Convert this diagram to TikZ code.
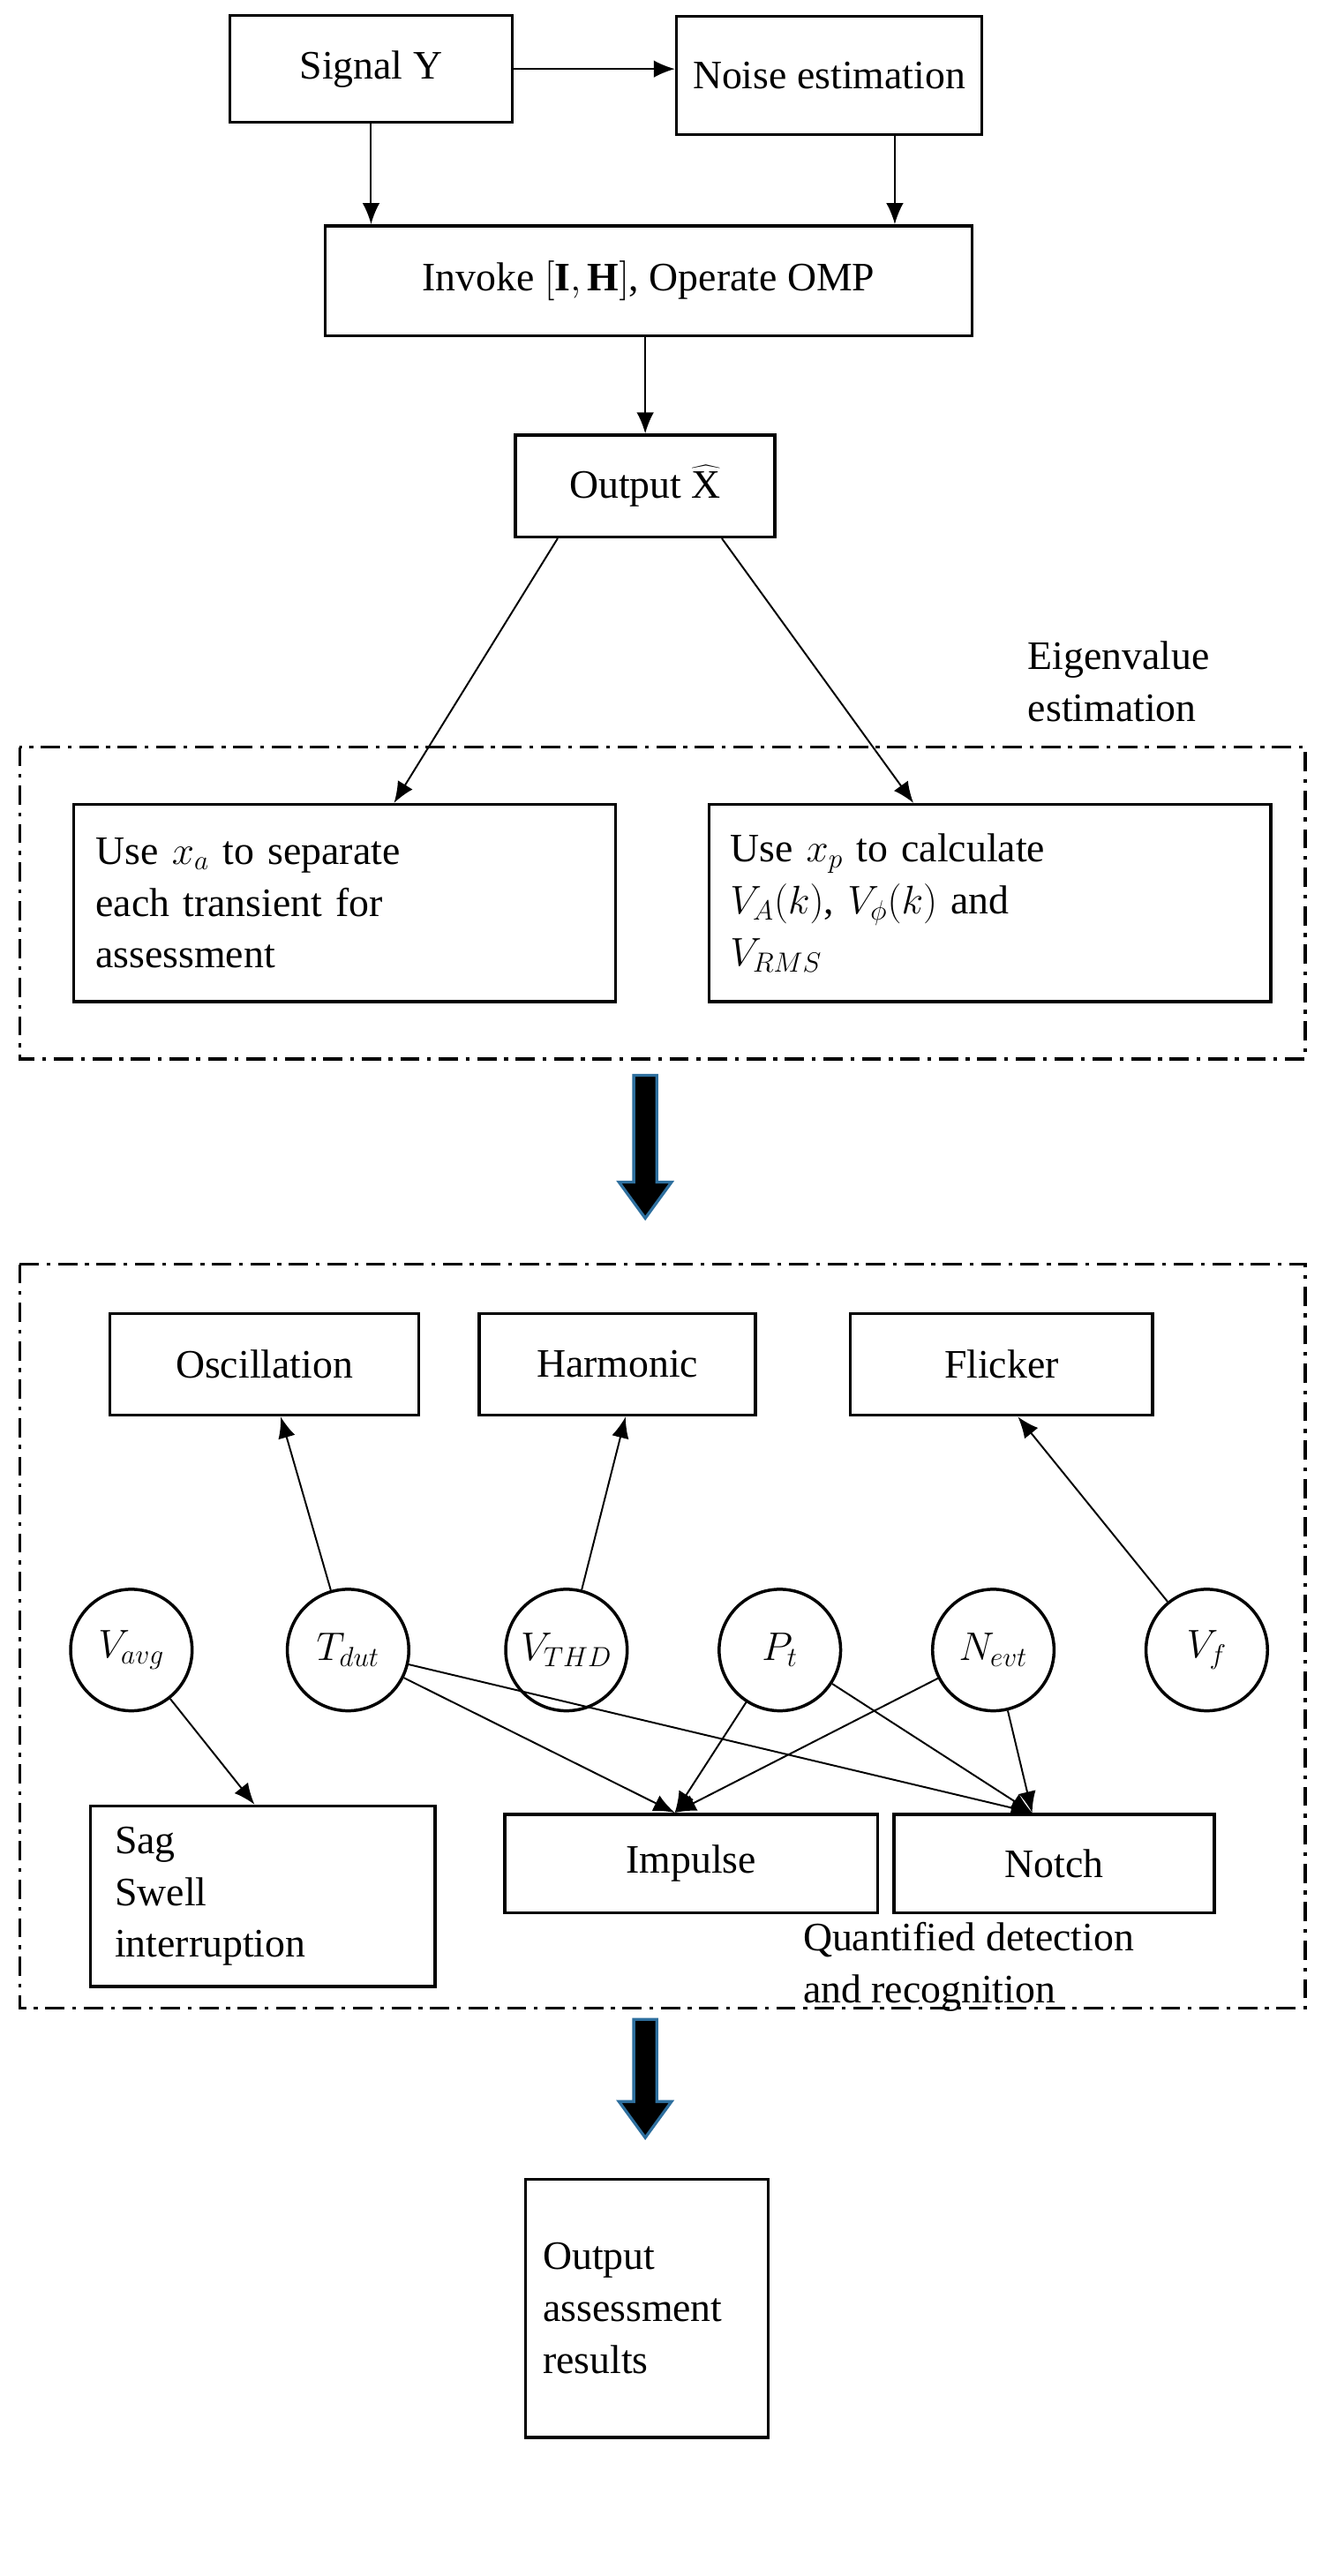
\documentclass[tikz,border=0pt]{standalone}
\usepackage{fontspec}
\setmainfont{Liberation Serif}
\usetikzlibrary{arrows.meta}
\definecolor{arrowblue}{HTML}{2E6F9E}
\begin{document}
\begin{tikzpicture}[x=0.03cm,y=-0.03cm,
  font=\fontsize{21}{27}\selectfont,
  box/.style={draw,line width=1.6pt,inner sep=4pt},
  circ/.style={draw,circle,line width=1.6pt,minimum size=2.22cm,inner sep=0pt},
  arr/.style={-{Latex[length=11pt,width=9pt]},line width=0.9pt},
  dd/.style={line width=1.6pt,dash pattern=on 10pt off 4pt on 2pt off 4pt},
  big/.style={fill=black,draw=arrowblue,line width=1.5pt}]
\useasboundingbox (0,0) rectangle (814,1569);
\node[box,minimum width=5.16cm,minimum height=1.95cm] (sig) at (226,42) {Signal Y};
\node[box,minimum width=5.58cm,minimum height=2.16cm] (noise) at (505,46) {Noise estimation};
\node[box,minimum width=11.82cm,minimum height=2.01cm] (inv) at (395,171) {Invoke $[\mathbf{I},\mathbf{H}]$, Operate OMP};
\node[box,minimum width=4.74cm,minimum height=1.86cm] (out) at (393,296) {Output $\widehat{\mathrm{X}}$};
\draw[arr] (sig.east) -- (sig.east -| noise.west);
\draw[arr] (sig.south) -- (sig.south |- inv.north);
\draw[arr] ([xshift=1.2cm]noise.south) -- ([xshift=1.2cm]noise.south |- inv.north);
\draw[arr] (out.north |- inv.south) -- (out.north);
\node[align=left,anchor=west] (eig) at (622,415) {Eigenvalue\\estimation};
\draw[dd] (12,455) rectangle (795,645);
\node[box,minimum width=9.9cm,minimum height=3.6cm,align=left,text width=9.1cm] (A) at (210,550) {Use $x_a$ to separate\\each transient for\\assessment};
\node[box,minimum width=10.26cm,minimum height=3.6cm,align=left,text width=9.5cm] (B) at (603,550) {Use $x_p$ to calculate\\$V_A(k)$, $V_\phi(k)$ and\\$V_{RMS}$};
\draw[arr] ([xshift=-1.6cm]out.south) -- ([xshift=0.9cm]A.north);
\draw[arr] ([xshift=1.4cm]out.south) -- ([xshift=-1.4cm]B.north);
\draw[big] (386,655)--(400,655)--(400,720)--(409,720)--(393,742)--(377,720)--(386,720)--cycle;
\draw[dd] (12,770) rectangle (795,1223);
\node[box,minimum width=5.64cm,minimum height=1.86cm] (osc) at (161,831) {Oscillation};
\node[box,minimum width=5.04cm,minimum height=1.86cm] (har) at (376,831) {Harmonic};
\node[box,minimum width=5.52cm,minimum height=1.86cm] (fli) at (610,831) {Flicker};
\node[circ] (vavg) at (80,1005) {$V_{avg}$};
\node[circ] (tdut) at (212,1005) {$T_{dut}$};
\node[circ] (vthd) at (345,1005) {$V_{THD}$};
\node[circ] (pt) at (475,1005) {$P_t$};
\node[circ] (nevt) at (605,1005) {$N_{evt}$};
\node[circ] (vf) at (735,1005) {$V_f$};
\node[box,minimum width=6.3cm,minimum height=3.3cm,align=left,text width=5.4cm] (sag) at (160,1155) {Sag\\Swell\\interruption};
\node[box,minimum width=6.81cm,minimum height=1.8cm] (imp) at (421,1135) {Impulse};
\node[box,minimum width=5.85cm,minimum height=1.8cm] (not) at (642,1135) {Notch};
\draw[arr] (tdut) -- ([xshift=0.3cm]osc.south);
\draw[arr] (vthd) -- ([xshift=0.15cm]har.south);
\draw[arr] (vf) -- ([xshift=0.3cm]fli.south);
\draw[arr] (vavg) -- ([xshift=-0.15cm]sag.north);
\coordinate (ti) at ([xshift=-0.3cm]imp.north);
\coordinate (tn) at ([xshift=-0.4cm]not.north);
\draw[arr] (tdut) -- (ti);
\draw[arr] (tdut) -- (tn);
\draw[arr] (pt) -- (ti);
\draw[arr] (pt) -- (tn);
\draw[arr] (nevt) -- (ti);
\draw[arr] (nevt) -- (tn);
\node[align=left,anchor=west] (q) at (485,1198) {Quantified detection\\and recognition};
\draw[big] (386,1230)--(400,1230)--(400,1280)--(409,1280)--(393,1302)--(377,1280)--(386,1280)--cycle;
\node[box,minimum width=4.44cm,minimum height=4.71cm,align=left,text width=3.8cm] (res) at (394,1406) {Output\\assessment\\results};
\end{tikzpicture}
\end{document}
